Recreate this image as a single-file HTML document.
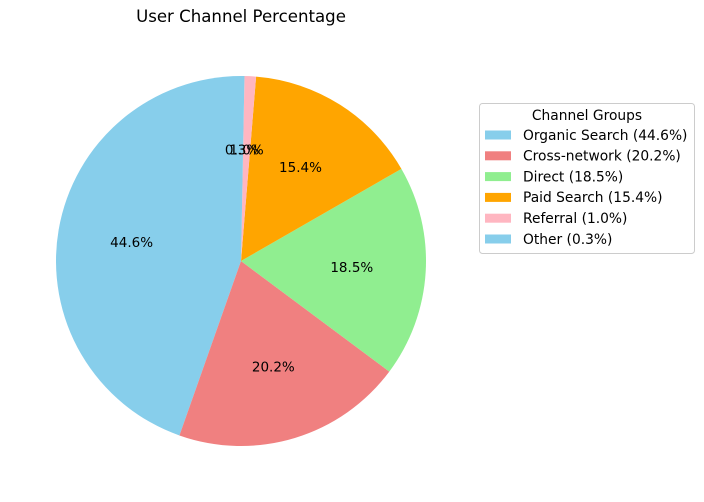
<!DOCTYPE html>
<html><head><meta charset="utf-8"><style>
html,body{margin:0;padding:0;background:#fff;}
svg{display:block;font-family:"DejaVu Sans","Liberation Sans",sans-serif;}
</style></head><body>
<svg id="chart" width="704" height="502" viewBox="0 0 704 502">
<text x="241" y="22" font-size="16.6" text-anchor="middle">User Channel Percentage</text>
<g id="slices"></g>
<g id="labels"></g>
<g id="legend"></g>
</svg>
<script>
const categories = ["Organic Search","Cross-network","Direct","Paid Search","Referral","Other"];
const values = [44.6, 20.2, 18.5, 15.4, 1.0, 0.3];
const colors = ["#87CEEB","#F08080","#90EE90","#FFA500","#FFB6C1","#87CEEB"];
const NS="http://www.w3.org/2000/svg";
const cx=241, cy=261, r=185;
const total=values.reduce((a,b)=>a+b,0);
function pt(deg,rad){const a=deg*Math.PI/180;return [cx+rad*Math.cos(a), cy-rad*Math.sin(a)];}
const sl=document.getElementById('slices'), lb=document.getElementById('labels'), lg=document.getElementById('legend');
let ang=90;
values.forEach((v,i)=>{
  const sweep=v/total*360, a0=ang, a1=ang+sweep;
  const p0=pt(a0,r), p1=pt(a1,r);
  const large=sweep>180?1:0;
  const path=document.createElementNS(NS,'path');
  path.setAttribute('d',`M${cx},${cy} L${p0[0]},${p0[1]} A${r},${r} 0 ${large} 0 ${p1[0]},${p1[1]} Z`);
  path.setAttribute('fill',colors[i]);
  
  
  sl.appendChild(path);
  const m=pt((a0+a1)/2, r*0.6);
  const t=document.createElementNS(NS,'text');
  t.setAttribute('x',m[0]);t.setAttribute('y',m[1]+4.5);
  t.setAttribute('font-size','13.5');t.setAttribute('text-anchor','middle');
  t.textContent=(v/total*100).toFixed(1)+'%';
  
  
  lb.appendChild(t);
  ang=a1;
});
const box=document.createElementNS(NS,'rect');
box.setAttribute('x',479.5);box.setAttribute('y',103.5);box.setAttribute('width',215);box.setAttribute('height',150);
box.setAttribute('rx',3);box.setAttribute('fill','#fff');box.setAttribute('stroke','#ccc');


lg.appendChild(box);
const title=document.createElementNS(NS,'text');
title.setAttribute('x',587);title.setAttribute('y',120);title.setAttribute('font-size','13.8');title.setAttribute('text-anchor','middle');
title.textContent='Channel Groups';


lg.appendChild(title);
categories.forEach((c,i)=>{
  const y=135+i*20.8;
  const g=document.createElementNS(NS,'g');
  
  
  const sw=document.createElementNS(NS,'rect');
  sw.setAttribute('x',485);sw.setAttribute('y',y-4.5);sw.setAttribute('width',26);sw.setAttribute('height',9);sw.setAttribute('fill',colors[i]);
  
  
  const t=document.createElementNS(NS,'text');
  t.setAttribute('x',523);t.setAttribute('y',y+4.8);t.setAttribute('font-size','13.8');
  t.textContent=`${c} (${(values[i]/total*100).toFixed(1)}%)`;
  
  
  g.appendChild(sw);g.appendChild(t);lg.appendChild(g);
});
</script>
</body></html>
